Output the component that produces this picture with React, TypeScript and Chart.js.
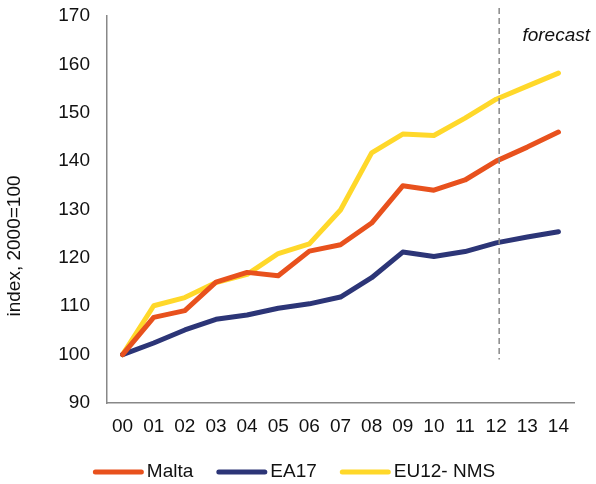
import React, { useEffect, useRef } from "react";
import { Chart, registerables } from "chart.js";

Chart.register(...registerables);

const categories = ["00", "01", "02", "03", "04", "05", "06", "07", "08", "09", "10", "11", "12", "13", "14"];
const malta = [100, 107.7, 109.1, 115.0, 117.0, 116.3, 121.4, 122.7, 127.2, 134.9, 134.0, 136.1, 140.0, 142.9, 146.0];
const ea17 = [100, 102.4, 105.1, 107.3, 108.2, 109.6, 110.5, 111.9, 115.9, 121.2, 120.3, 121.3, 123.1, 124.3, 125.4];
const eu12 = [100, 110.1, 111.8, 114.9, 116.6, 120.9, 122.9, 129.9, 141.7, 145.6, 145.3, 148.9, 152.8, 155.5, 158.2];
const seriesLabels = ["Malta", "EA17", "EU12- NMS"];
const seriesColors = ["#E8511D", "#2C3577", "#FFD82A"];
const yMin = 90;
const yMax = 170;
const yStep = 10;
const yTitle = "index, 2000=100";
const forecastStart = "12";
const forecastLabel = "forecast";

const FONT = "'Liberation Sans', Arial, sans-serif";

const overlayPlugin = {
  id: "overlay",
  afterDraw(chart: any) {
    const { ctx, chartArea, scales } = chart;
    const x = scales.x.getPixelForValue(categories.indexOf(forecastStart)) + 3;
    ctx.save();
    // y axis title
    ctx.save();
    ctx.translate(14.5, 246);
    ctx.rotate(-Math.PI / 2);
    ctx.font = `19px ${FONT}`;
    ctx.fillStyle = "#111111";
    ctx.textAlign = "center";
    ctx.textBaseline = "middle";
    ctx.fillText(yTitle, 0, 0);
    ctx.restore();
    // forecast divider
    ctx.strokeStyle = "#888888";
    ctx.lineWidth = 1.5;
    ctx.setLineDash([6, 4]);
    ctx.beginPath();
    ctx.moveTo(x, chartArea.top - 8);
    ctx.lineTo(x, scales.y.getPixelForValue(99));
    ctx.stroke();
    ctx.setLineDash([]);
    // forecast text
    ctx.font = `italic 19px ${FONT}`;
    ctx.fillStyle = "#111111";
    ctx.textAlign = "right";
    ctx.textBaseline = "middle";
    ctx.fillText(forecastLabel, chart.width - 6, 36);
    // legend
    ctx.font = `19px ${FONT}`;
    ctx.textAlign = "left";
    const boxW = 51;
    const gap = 3;
    const spacing = 23;
    const widths = seriesLabels.map((l) => boxW + gap + ctx.measureText(l).width);
    const total = widths.reduce((a, b) => a + b, 0) + spacing * (widths.length - 1);
    let cx = chart.width / 2 - 4 - total / 2;
    const cy = 472;
    seriesLabels.forEach((l, i) => {
      ctx.strokeStyle = seriesColors[i];
      ctx.lineWidth = 5;
      ctx.lineCap = "round";
      ctx.beginPath();
      ctx.moveTo(cx + 2.5, cy);
      ctx.lineTo(cx + boxW - 2.5, cy);
      ctx.stroke();
      ctx.fillStyle = "#111111";
      ctx.fillText(l, cx + boxW + gap, cy);
      cx += widths[i] + spacing;
    });
    ctx.restore();
  },
};

export default function App() {
  const ref = useRef<HTMLCanvasElement>(null);
  useEffect(() => {
    if (!ref.current) return;
    const data = [malta, ea17, eu12];
    const chart = new Chart(ref.current, {
      type: "line",
      data: {
        labels: categories,
        datasets: data.map((d, i) => ({
          label: seriesLabels[i],
          data: d,
          borderColor: seriesColors[i],
          backgroundColor: seriesColors[i],
          borderWidth: 5,
          pointRadius: 0,
          tension: 0,
          borderCapStyle: "round" as const,
          borderJoinStyle: "round" as const,
        })),
      },
      options: {
        responsive: false,
        animation: false,
        devicePixelRatio: 1,
        layout: { padding: { top: 16, right: 22, bottom: 0, left: 0 } },
        plugins: { legend: { display: false }, tooltip: { enabled: false } },
        scales: {
          x: {
            offset: true,
            grid: { display: false, drawTicks: false },
            border: { display: true, color: "#888888", width: 1.5 },
            ticks: { color: "#111111", font: { family: FONT, size: 19 }, padding: 12, maxRotation: 0, autoSkip: false },
            afterFit: (s: any) => { s.height = 81; s.paddingLeft = 0; s.paddingRight = 0; },
          },
          y: {
            min: yMin,
            max: yMax,
            grid: { display: false, drawTicks: false },
            border: { display: true, color: "#888888", width: 1.5 },
            ticks: { stepSize: yStep, color: "#111111", font: { family: FONT, size: 19 }, padding: 17 },
            title: { display: false, text: yTitle },
            afterFit: (s: any) => { s.width = 107; s.paddingTop = 0; s.paddingBottom = 0; },
          },
        },
      },
      plugins: [overlayPlugin],
    });
    return () => chart.destroy();
  }, []);
  return (
    <div style={{ position: "fixed", left: 0, top: 0, width: 596, height: 484, background: "#fff" }}>
      <canvas ref={ref} width={596} height={484} />
    </div>
  );
}
